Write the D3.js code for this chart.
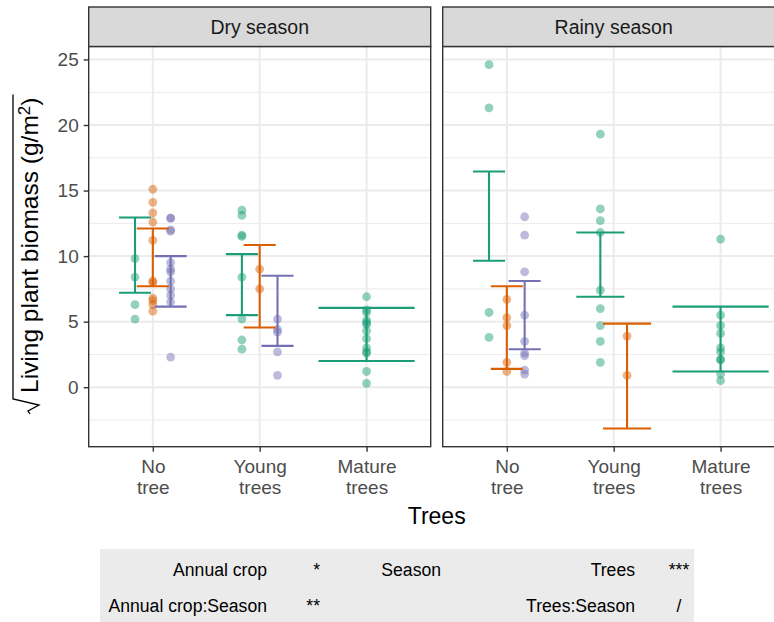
<!DOCTYPE html>
<html><head><meta charset="utf-8">
<script src="https://cdn.jsdelivr.net/npm/d3@7"></script>
<style>
body{margin:0;background:#fff}
svg{display:block}
text{font-family:"Liberation Sans",Arial,Helvetica,sans-serif}
</style>
</head><body>
<svg id="chart" width="774" height="622"></svg>
<script>
// ---------------- DATA ----------------
const seasons = ["Dry season", "Rainy season"];
const treeLevels = ["No tree", "Young trees", "Mature trees"];
const treeTickLabels = [["No", "tree"], ["Young", "trees"], ["Mature", "trees"]];
const cropGroups = ["Annual crop 1", "Annual crop 2", "Annual crop 3"];
const yTickValues = [0, 5, 10, 15, 20, 25];

// cell order: Dry/No, Dry/Young, Dry/Mature, Rainy/No, Rainy/Young, Rainy/Mature
const crop1Points = [
  [9.8, 8.4, 6.3, 5.2],
  [13.5, 13.1, 11.6, 11.5, 8.4, 5.2, 3.6, 2.9],
  [6.9, 5.9, 5.7, 5.1, 4.9, 4.8, 4.3, 3.7, 3.0, 2.7, 2.6, 1.2, 0.3],
  [24.6, 21.3, 5.7, 3.8],
  [19.3, 13.6, 12.7, 11.8, 7.4, 6.0, 4.7, 3.5, 1.9],
  [11.3, 5.5, 4.7, 4.1, 3.0, 2.7, 2.1, 2.1, 1.0, 0.5]
];
const crop2Points = [
  [15.1, 14.1, 13.3, 12.6, 11.2, 8.1, 8.0, 6.8, 6.6, 6.3, 5.8],
  [9.0, 7.5],
  [],
  [6.7, 5.3, 4.7, 1.9, 1.2],
  [3.9, 0.9],
  []
];
const crop3Points = [
  [12.9, 12.9, 12.0, 11.9, 9.5, 9.0, 8.8, 8.1, 7.5, 7.0, 6.5, 2.3],
  [5.2, 4.4, 4.2, 2.7, 0.9],
  [],
  [13.0, 11.6, 8.8, 5.5, 3.5, 2.6, 2.4, 1.3, 1.0],
  [],
  []
];
const crop1Low  = [7.2, 5.5, 2.0, 9.65, 6.9, 1.2];
const crop1High = [12.95, 10.15, 6.05, 16.45, 11.8, 6.15];
const crop2Low  = [7.7, 4.55, null, 1.4, -3.15, null];
const crop2High = [12.1, 10.85, null, 7.7, 4.85, null];
const crop3Low  = [6.15, 3.15, null, 2.9, null, null];
const crop3High = [10.0, 8.5, null, 8.1, null, null];

// significance table
const tableRow1 = [["Annual crop", "*"], ["Season", ""], ["Trees", "***"]];
const tableRow2 = [["Annual crop:Season", "**"], ["", ""], ["Trees:Season", "/"]];

// ---------------- BUILD ----------------
const colors = d3.schemeDark2.slice(0, 3);
const groups = [
  {name: cropGroups[0], color: colors[0], pts: crop1Points, low: crop1Low, high: crop1High},
  {name: cropGroups[1], color: colors[1], pts: crop2Points, low: crop2Low, high: crop2High},
  {name: cropGroups[2], color: colors[2], pts: crop3Points, low: crop3Low, high: crop3High}
];

const svg = d3.select("#chart");
const panelTop = 46.5, panelBottom = 446.7, stripTop = 7;
const panelW = 342;
const panelX = [88.7, 442.7];

// y domain from data extent + 5% expansion
const allVals = [];
groups.forEach(g => {
  g.pts.forEach(a => a.forEach(v => allVals.push(v)));
  g.low.forEach(v => { if (v != null) allVals.push(v); });
  g.high.forEach(v => { if (v != null) allVals.push(v); });
});
const [vmin, vmax] = d3.extent(allVals);
const pad = (vmax - vmin) * 0.05;
const y = d3.scaleLinear().domain([vmin - pad, vmax + pad]).range([panelBottom, panelTop]);

const minorTicks = [];
for (let i = 0; i < yTickValues.length; i++) {
  const a = yTickValues[i] - 2.5, b = yTickValues[i] + 2.5;
  if (a > y.domain()[0] && !minorTicks.includes(a)) minorTicks.push(a);
  if (b < y.domain()[1] && !minorTicks.includes(b)) minorTicks.push(b);
}

seasons.forEach((season, s) => {
  const x0 = panelX[s], x1 = x0 + panelW;
  const x = d3.scalePoint().domain(treeLevels).range([x0, x1]).padding(0.6);
  const step = x.step();
  const g = svg.append("g");

  g.append("rect").attr("x", x0).attr("y", panelTop).attr("width", panelW)
    .attr("height", panelBottom - panelTop).attr("fill", "#fff");

  g.selectAll(".minor").data(minorTicks).enter().append("line")
    .attr("x1", x0).attr("x2", x1).attr("y1", d => y(d)).attr("y2", d => y(d))
    .attr("stroke", "#EBEBEB").attr("stroke-width", 1);
  g.selectAll(".majorY").data(yTickValues).enter().append("line")
    .attr("x1", x0).attr("x2", x1).attr("y1", d => y(d)).attr("y2", d => y(d))
    .attr("stroke", "#EBEBEB").attr("stroke-width", 2);
  g.selectAll(".majorX").data(treeLevels).enter().append("line")
    .attr("x1", d => x(d)).attr("x2", d => x(d)).attr("y1", panelTop).attr("y2", panelBottom)
    .attr("stroke", "#EBEBEB").attr("stroke-width", 2);

  // points
  treeLevels.forEach((tree, t) => {
    const cell = s * 3 + t;
    const present = groups.filter(gr => gr.pts[cell].length > 0 || gr.low[cell] != null);
    const n = present.length;
    present.forEach((gr, i) => {
      const cx = x(tree) + (i - (n - 1) / 2) * (0.5 / n) * step;
      g.selectAll(null).data(gr.pts[cell]).enter().append("circle")
        .attr("cx", cx).attr("cy", d => y(d)).attr("r", 4.4)
        .attr("fill", gr.color).attr("fill-opacity", 0.48);
    });
  });
  // error bars
  treeLevels.forEach((tree, t) => {
    const cell = s * 3 + t;
    const present = groups.filter(gr => gr.pts[cell].length > 0 || gr.low[cell] != null);
    const n = present.length;
    present.forEach((gr, i) => {
      if (gr.low[cell] == null) return;
      const cx = x(tree) + (i - (n - 1) / 2) * (0.5 / n) * step;
      const hw = (0.9 / n) / 2 * step;
      const lo = y(gr.low[cell]), hi = y(gr.high[cell]);
      const eb = g.append("g").attr("stroke", gr.color).attr("stroke-width", 2.1).attr("fill", "none");
      eb.append("line").attr("x1", cx).attr("x2", cx).attr("y1", lo).attr("y2", hi);
      eb.append("line").attr("x1", cx - hw).attr("x2", cx + hw).attr("y1", lo).attr("y2", lo);
      eb.append("line").attr("x1", cx - hw).attr("x2", cx + hw).attr("y1", hi).attr("y2", hi);
    });
  });

  g.append("rect").attr("x", x0).attr("y", panelTop).attr("width", panelW)
    .attr("height", panelBottom - panelTop).attr("fill", "none")
    .attr("stroke", "#333333").attr("stroke-width", 1.4);

  g.append("rect").attr("x", x0).attr("y", stripTop).attr("width", panelW)
    .attr("height", panelTop - stripTop).attr("fill", "#D9D9D9")
    .attr("stroke", "#333333").attr("stroke-width", 1.4);
  g.append("text").attr("x", x0 + panelW / 2).attr("y", 33.5)
    .attr("text-anchor", "middle").attr("font-size", 19.5).attr("fill", "#1A1A1A")
    .text(season);

  const xa = g.append("g").attr("transform", `translate(0,${panelBottom})`)
    .call(d3.axisBottom(x).tickSize(5).tickPadding(8.3).tickFormat(""));
  xa.select(".domain").remove();
  xa.selectAll(".tick line").attr("stroke", "#333333").attr("stroke-width", 1.4);
  xa.selectAll(".tick text").each(function(d) {
    const lbl = treeTickLabels[treeLevels.indexOf(d)];
    const txt = d3.select(this).attr("font-size", 19).attr("fill", "#4D4D4D")
      .attr("font-family", "Liberation Sans, Arial, sans-serif");
    txt.append("tspan").attr("x", 0).text(lbl[0]);
    txt.append("tspan").attr("x", 0).attr("dy", 21).text(lbl[1]);
  });
});

const ya = svg.append("g").attr("transform", `translate(${panelX[0]},0)`)
  .call(d3.axisLeft(y).tickValues(yTickValues).tickSize(5).tickPadding(5));
ya.select(".domain").remove();
ya.selectAll(".tick line").attr("stroke", "#333333").attr("stroke-width", 1.4);
ya.selectAll(".tick text").attr("font-size", 19).attr("fill", "#4D4D4D")
  .attr("font-family", "Liberation Sans, Arial, sans-serif");

svg.append("text").attr("x", (panelX[0] + panelX[1] + panelW) / 2).attr("y", 524)
  .attr("text-anchor", "middle").attr("font-size", 23).attr("fill", "#000").text("Trees");

const yt = svg.append("g").attr("transform", "translate(38,393) rotate(-90)");
const ytText = yt.append("text").attr("x", 0).attr("y", 0).attr("font-size", 24.5).attr("fill", "#000");
ytText.append("tspan").text("Living plant biomass (g/m");
ytText.append("tspan").attr("dy", -8).attr("font-size", 17).text("2");
ytText.append("tspan").attr("dy", 8).text(")");
const L = ytText.node().getComputedTextLength();
yt.append("path").attr("d", `M-21,-8 L-18,-10 L-12,1 L-6,-25 H${L + 3}`)
  .attr("fill", "none").attr("stroke", "#000").attr("stroke-width", 1.3);

svg.append("rect").attr("x", 100).attr("y", 549).attr("width", 594).attr("height", 73).attr("fill", "#EBEBEB");
const termX = [267, 441, 635];
const termAnchor = ["end", "end", "end"];
const sigX = [320, 0, 679];
const sigAnchor = ["end", "middle", "middle"];
[tableRow1, tableRow2].forEach((row, r) => {
  const by = r === 0 ? 575.5 : 611.5;
  row.forEach((cellv, c) => {
    svg.append("text").attr("x", termX[c]).attr("y", by).attr("text-anchor", termAnchor[c])
      .attr("font-size", 17.6).attr("fill", "#000").text(cellv[0]);
    if (cellv[1]) svg.append("text").attr("x", sigX[c]).attr("y", by).attr("text-anchor", sigAnchor[c])
      .attr("font-size", 17.6).attr("fill", "#000").text(cellv[1]);
  });
});
</script>
</body></html>
